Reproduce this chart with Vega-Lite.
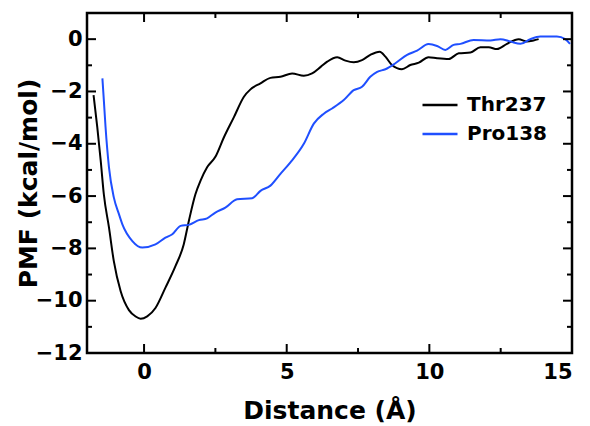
{
  "$schema": "https://vega.github.io/schema/vega-lite/v6.json",
  "width": 485,
  "height": 340,
  "autosize": {"type": "none"},
  "padding": {"left": 87, "top": 13, "right": 18, "bottom": 73},
  "config": {
    "view": {"stroke": "black", "strokeWidth": 2.5}
  },
  "datasets": {
    "curves": [
      {"d": -1.77, "pmf": -2.14, "s": "Thr237"},
      {"d": -1.64, "pmf": -3.36, "s": "Thr237"},
      {"d": -1.52, "pmf": -4.64, "s": "Thr237"},
      {"d": -1.41, "pmf": -5.93, "s": "Thr237"},
      {"d": -1.23, "pmf": -7.2, "s": "Thr237"},
      {"d": -1.06, "pmf": -8.49, "s": "Thr237"},
      {"d": -0.82, "pmf": -9.64, "s": "Thr237"},
      {"d": -0.53, "pmf": -10.36, "s": "Thr237"},
      {"d": -0.3, "pmf": -10.6, "s": "Thr237"},
      {"d": -0.12, "pmf": -10.69, "s": "Thr237"},
      {"d": 0.11, "pmf": -10.6, "s": "Thr237"},
      {"d": 0.4, "pmf": -10.28, "s": "Thr237"},
      {"d": 0.75, "pmf": -9.5, "s": "Thr237"},
      {"d": 1.1, "pmf": -8.68, "s": "Thr237"},
      {"d": 1.39, "pmf": -7.85, "s": "Thr237"},
      {"d": 1.57, "pmf": -6.95, "s": "Thr237"},
      {"d": 1.8, "pmf": -5.93, "s": "Thr237"},
      {"d": 1.98, "pmf": -5.41, "s": "Thr237"},
      {"d": 2.21, "pmf": -4.9, "s": "Thr237"},
      {"d": 2.5, "pmf": -4.5, "s": "Thr237"},
      {"d": 2.8, "pmf": -3.75, "s": "Thr237"},
      {"d": 3.15, "pmf": -2.98, "s": "Thr237"},
      {"d": 3.5, "pmf": -2.2, "s": "Thr237"},
      {"d": 3.73, "pmf": -1.92, "s": "Thr237"},
      {"d": 4.08, "pmf": -1.69, "s": "Thr237"},
      {"d": 4.43, "pmf": -1.48, "s": "Thr237"},
      {"d": 4.78, "pmf": -1.44, "s": "Thr237"},
      {"d": 5.19, "pmf": -1.31, "s": "Thr237"},
      {"d": 5.6, "pmf": -1.4, "s": "Thr237"},
      {"d": 5.89, "pmf": -1.31, "s": "Thr237"},
      {"d": 6.2, "pmf": -1.05, "s": "Thr237"},
      {"d": 6.42, "pmf": -0.86, "s": "Thr237"},
      {"d": 6.77, "pmf": -0.69, "s": "Thr237"},
      {"d": 7.06, "pmf": -0.82, "s": "Thr237"},
      {"d": 7.35, "pmf": -0.88, "s": "Thr237"},
      {"d": 7.64, "pmf": -0.8, "s": "Thr237"},
      {"d": 7.93, "pmf": -0.6, "s": "Thr237"},
      {"d": 8.26, "pmf": -0.48, "s": "Thr237"},
      {"d": 8.46, "pmf": -0.67, "s": "Thr237"},
      {"d": 8.69, "pmf": -0.99, "s": "Thr237"},
      {"d": 9.04, "pmf": -1.15, "s": "Thr237"},
      {"d": 9.33, "pmf": -0.99, "s": "Thr237"},
      {"d": 9.63, "pmf": -0.9, "s": "Thr237"},
      {"d": 9.97, "pmf": -0.69, "s": "Thr237"},
      {"d": 10.27, "pmf": -0.73, "s": "Thr237"},
      {"d": 10.68, "pmf": -0.76, "s": "Thr237"},
      {"d": 11.03, "pmf": -0.54, "s": "Thr237"},
      {"d": 11.44, "pmf": -0.51, "s": "Thr237"},
      {"d": 11.79, "pmf": -0.31, "s": "Thr237"},
      {"d": 12.08, "pmf": -0.31, "s": "Thr237"},
      {"d": 12.37, "pmf": -0.38, "s": "Thr237"},
      {"d": 12.72, "pmf": -0.18, "s": "Thr237"},
      {"d": 13.13, "pmf": 0.0, "s": "Thr237"},
      {"d": 13.42, "pmf": -0.09, "s": "Thr237"},
      {"d": 13.65, "pmf": -0.05, "s": "Thr237"},
      {"d": 13.83, "pmf": 0.0, "s": "Thr237"},
      {"d": -1.46, "pmf": -1.5, "s": "Pro138"},
      {"d": -1.41, "pmf": -2.33, "s": "Pro138"},
      {"d": -1.35, "pmf": -3.36, "s": "Pro138"},
      {"d": -1.23, "pmf": -4.9, "s": "Pro138"},
      {"d": -1.06, "pmf": -6.05, "s": "Pro138"},
      {"d": -0.88, "pmf": -6.69, "s": "Pro138"},
      {"d": -0.76, "pmf": -7.08, "s": "Pro138"},
      {"d": -0.41, "pmf": -7.72, "s": "Pro138"},
      {"d": -0.06, "pmf": -7.97, "s": "Pro138"},
      {"d": 0.4, "pmf": -7.85, "s": "Pro138"},
      {"d": 0.75, "pmf": -7.59, "s": "Pro138"},
      {"d": 0.99, "pmf": -7.46, "s": "Pro138"},
      {"d": 1.28, "pmf": -7.14, "s": "Pro138"},
      {"d": 1.57, "pmf": -7.1, "s": "Pro138"},
      {"d": 1.92, "pmf": -6.92, "s": "Pro138"},
      {"d": 2.21, "pmf": -6.85, "s": "Pro138"},
      {"d": 2.5, "pmf": -6.63, "s": "Pro138"},
      {"d": 2.85, "pmf": -6.44, "s": "Pro138"},
      {"d": 3.26, "pmf": -6.12, "s": "Pro138"},
      {"d": 3.79, "pmf": -6.08, "s": "Pro138"},
      {"d": 4.08, "pmf": -5.8, "s": "Pro138"},
      {"d": 4.43, "pmf": -5.6, "s": "Pro138"},
      {"d": 4.78, "pmf": -5.15, "s": "Pro138"},
      {"d": 5.13, "pmf": -4.71, "s": "Pro138"},
      {"d": 5.6, "pmf": -4.0, "s": "Pro138"},
      {"d": 5.95, "pmf": -3.23, "s": "Pro138"},
      {"d": 6.3, "pmf": -2.85, "s": "Pro138"},
      {"d": 6.59, "pmf": -2.65, "s": "Pro138"},
      {"d": 7.0, "pmf": -2.33, "s": "Pro138"},
      {"d": 7.35, "pmf": -1.95, "s": "Pro138"},
      {"d": 7.64, "pmf": -1.82, "s": "Pro138"},
      {"d": 7.93, "pmf": -1.44, "s": "Pro138"},
      {"d": 8.17, "pmf": -1.25, "s": "Pro138"},
      {"d": 8.46, "pmf": -1.15, "s": "Pro138"},
      {"d": 8.81, "pmf": -0.92, "s": "Pro138"},
      {"d": 9.22, "pmf": -0.6, "s": "Pro138"},
      {"d": 9.57, "pmf": -0.44, "s": "Pro138"},
      {"d": 9.97, "pmf": -0.19, "s": "Pro138"},
      {"d": 10.27, "pmf": -0.26, "s": "Pro138"},
      {"d": 10.56, "pmf": -0.41, "s": "Pro138"},
      {"d": 10.85, "pmf": -0.22, "s": "Pro138"},
      {"d": 11.09, "pmf": -0.18, "s": "Pro138"},
      {"d": 11.55, "pmf": -0.03, "s": "Pro138"},
      {"d": 12.14, "pmf": -0.05, "s": "Pro138"},
      {"d": 12.49, "pmf": 0.0, "s": "Pro138"},
      {"d": 12.84, "pmf": -0.09, "s": "Pro138"},
      {"d": 13.19, "pmf": -0.18, "s": "Pro138"},
      {"d": 13.54, "pmf": 0.0, "s": "Pro138"},
      {"d": 13.89, "pmf": 0.1, "s": "Pro138"},
      {"d": 14.47, "pmf": 0.1, "s": "Pro138"},
      {"d": 14.76, "pmf": 0.0, "s": "Pro138"},
      {"d": 14.93, "pmf": -0.18, "s": "Pro138"}
    ],
    "xticks": [
      {"d": 0, "pmf": -12, "kind": "major"},
      {"d": 2.5, "pmf": -12, "kind": "minor"},
      {"d": 5, "pmf": -12, "kind": "major"},
      {"d": 7.5, "pmf": -12, "kind": "minor"},
      {"d": 10, "pmf": -12, "kind": "major"},
      {"d": 12.5, "pmf": -12, "kind": "minor"},
      {"d": 0, "pmf": 1, "kind": "major"},
      {"d": 2.5, "pmf": 1, "kind": "minor"},
      {"d": 5, "pmf": 1, "kind": "major"},
      {"d": 7.5, "pmf": 1, "kind": "minor"},
      {"d": 10, "pmf": 1, "kind": "major"},
      {"d": 12.5, "pmf": 1, "kind": "minor"}
    ],
    "yticks": [
      {"d": -2, "pmf": -11, "kind": "minor"},
      {"d": -2, "pmf": -10, "kind": "major"},
      {"d": -2, "pmf": -9, "kind": "minor"},
      {"d": -2, "pmf": -8, "kind": "major"},
      {"d": -2, "pmf": -7, "kind": "minor"},
      {"d": -2, "pmf": -6, "kind": "major"},
      {"d": -2, "pmf": -5, "kind": "minor"},
      {"d": -2, "pmf": -4, "kind": "major"},
      {"d": -2, "pmf": -3, "kind": "minor"},
      {"d": -2, "pmf": -2, "kind": "major"},
      {"d": -2, "pmf": -1, "kind": "minor"},
      {"d": -2, "pmf": 0, "kind": "major"},
      {"d": 15, "pmf": -11, "kind": "minor"},
      {"d": 15, "pmf": -10, "kind": "major"},
      {"d": 15, "pmf": -9, "kind": "minor"},
      {"d": 15, "pmf": -8, "kind": "major"},
      {"d": 15, "pmf": -7, "kind": "minor"},
      {"d": 15, "pmf": -6, "kind": "major"},
      {"d": 15, "pmf": -5, "kind": "minor"},
      {"d": 15, "pmf": -4, "kind": "major"},
      {"d": 15, "pmf": -3, "kind": "minor"},
      {"d": 15, "pmf": -2, "kind": "major"},
      {"d": 15, "pmf": -1, "kind": "minor"},
      {"d": 15, "pmf": 0, "kind": "major"}
    ]
  },
  "layer": [
    {
      "data": {"name": "curves"},
      "mark": {"type": "line", "strokeWidth": 2, "interpolate": "monotone"},
      "encoding": {
        "x": {
          "field": "d", "type": "quantitative",
          "scale": {"domain": [-2, 15], "nice": false, "zero": false},
          "axis": {
            "orient": "bottom",
            "title": "Distance (Å)",
            "values": [0, 5, 10, 15],
            "domain": false,
            "grid": false,
            "ticks": true, "tickSize": -5, "tickOpacity": 0,
            "labelPadding": 13,
            "labelFont": "DejaVu Sans", "labelFontWeight": "bold", "labelFontSize": 21, "labelColor": "black",
            "titleFont": "DejaVu Sans", "titleFontWeight": "bold", "titleFontSize": 25, "titleColor": "black",
            "titlePadding": 16
          }
        },
        "y": {
          "field": "pmf", "type": "quantitative",
          "scale": {"domain": [-12, 1], "nice": false, "zero": false},
          "axis": {
            "orient": "left",
            "title": "PMF (kcal/mol)",
            "values": [-12, -10, -8, -6, -4, -2, 0],
            "domain": false,
            "grid": false,
            "ticks": true, "tickSize": -5, "tickOpacity": 0,
            "labelPadding": 10,
            "labelFont": "DejaVu Sans", "labelFontWeight": "bold", "labelFontSize": 21, "labelColor": "black",
            "titleFont": "DejaVu Sans", "titleFontWeight": "bold", "titleFontSize": 25, "titleColor": "black",
            "titlePadding": -6
          }
        },
        "color": {
          "field": "s", "type": "nominal",
          "scale": {"domain": ["Thr237", "Pro138"], "range": ["black", "#1f4fff"]},
          "legend": {
            "orient": "none",
            "legendX": 334,
            "legendY": 73,
            "title": null,
            "symbolType": "stroke",
            "symbolSize": 1225,
            "symbolStrokeWidth": 2.5,
            "labelFont": "DejaVu Sans",
            "labelFontWeight": "bold",
            "labelFontSize": 20,
            "labelColor": "black",
            "labelOffset": 8,
            "rowPadding": -11
          }
        }
      }
    },
    {
      "data": {"name": "xticks"},
      "mark": {"type": "tick", "orient": "vertical", "thickness": 2, "color": "black", "opacity": 1, "clip": true},
      "encoding": {
        "x": {"field": "d", "type": "quantitative"},
        "y": {"field": "pmf", "type": "quantitative"},
        "size": {"field": "kind", "type": "nominal", "scale": {"domain": ["major", "minor"], "range": [18, 10]}, "legend": null}
      }
    },
    {
      "data": {"name": "yticks"},
      "mark": {"type": "tick", "orient": "horizontal", "thickness": 2, "color": "black", "opacity": 1, "clip": true},
      "encoding": {
        "x": {"field": "d", "type": "quantitative"},
        "y": {"field": "pmf", "type": "quantitative"},
        "size": {"field": "kind", "type": "nominal", "scale": {"domain": ["major", "minor"], "range": [18, 10]}, "legend": null}
      }
    }
  ]
}
